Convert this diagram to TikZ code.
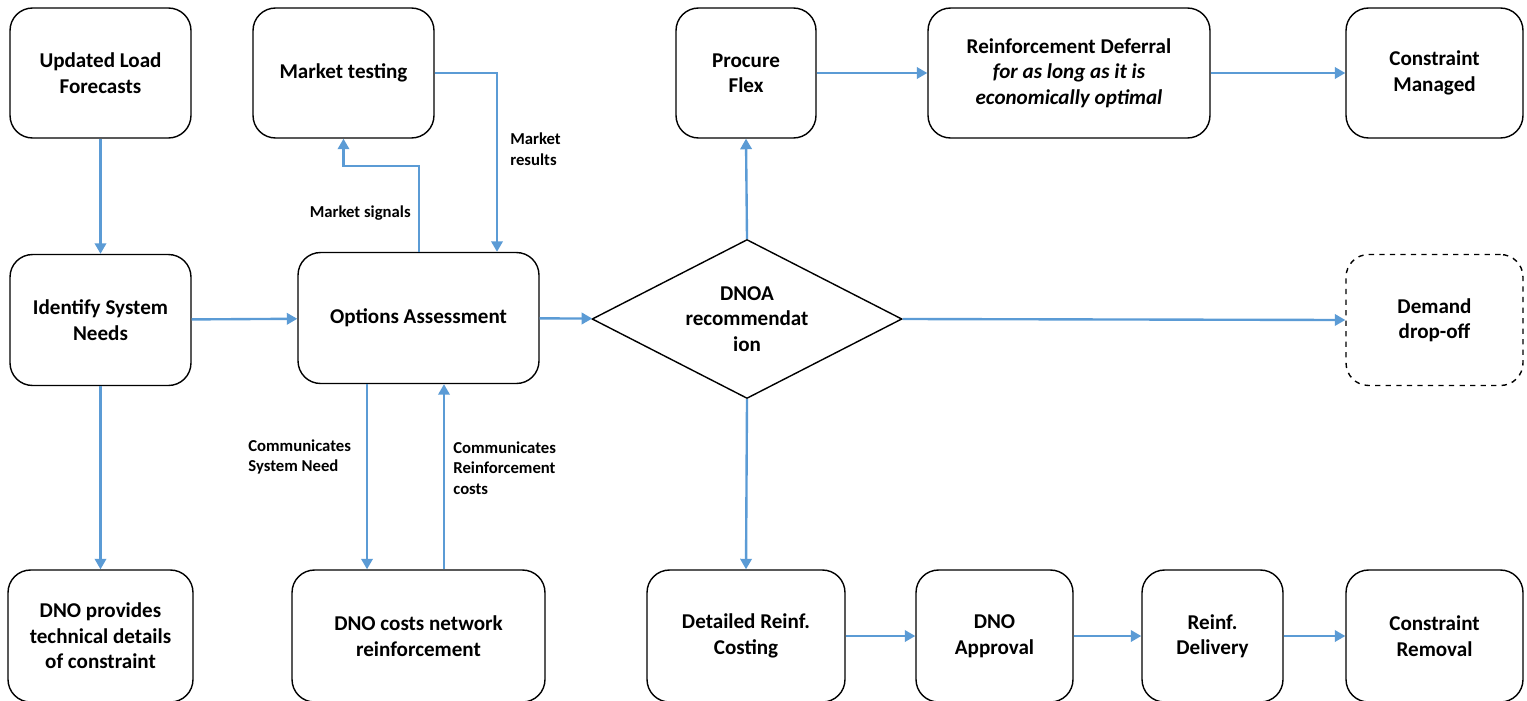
\documentclass[tikz,border=0pt]{standalone}
\usepackage{fontspec}
\setmainfont{Carlito}
\usepackage{tikz}
\usetikzlibrary{shapes.geometric,arrows.meta}
\definecolor{flowblue}{HTML}{5B9BD5}
\tikzstyle{box} = [draw, rounded corners=0.45cm, line width=0.8pt, align=center,
    font=\fontsize{12}{14.5}\selectfont\bfseries, minimum height=2.6cm, inner sep=2pt]
\tikzstyle{decide} = [draw, diamond, aspect=2, line width=0.8pt, align=center, inner sep=0pt,
    font=\fontsize{12}{14.5}\selectfont\bfseries, minimum width=6.2cm, minimum height=3.18cm]
\tikzstyle{flow} = [draw=flowblue, line width=1.35pt, -{Triangle[length=6pt,width=6.5pt]}]
\tikzstyle{note} = [align=left, font=\fontsize{9.5}{11.8}\selectfont\bfseries, inner sep=0pt]

\begin{document}
\begin{tikzpicture}[x=0.02cm, y=-0.02cm]
\useasboundingbox (0,0) rectangle (1527,700);

\node[box, minimum width=3.62cm] (upd) at (100.5,73) {Updated Load\\Forecasts};
\node[box, minimum width=3.62cm] (mt) at (343.5,73) {Market testing};
\node[box, minimum width=2.8cm] (flex) at (746,73) {Procure\\Flex};
\node[box, minimum width=5.64cm] (defer) at (1069,73)
    {Reinforcement Deferral\\\textit{for as long as it is}\\\textit{economically optimal}};
\node[box, minimum width=3.54cm] (cman) at (1434.5,73) {Constraint\\Managed};

\node[box, minimum width=3.62cm, minimum height=2.62cm] (isn) at (100.5,320) {Identify System\\Needs};
\node[box, minimum width=4.82cm, minimum height=2.62cm] (opt) at (418.5,318) {Options Assessment};
\node[decide] (dnoa) at (747,319) {DNOA\\recommendat\\ion};
\node[box, dashed, minimum width=3.54cm, minimum height=2.62cm] (drop) at (1434.5,320) {Demand\\drop-off};

\node[box, minimum width=3.7cm, minimum height=2.64cm] (dnop) at (100.5,636)
    {DNO provides\\technical details\\of constraint};
\node[box, minimum width=5.06cm, minimum height=2.64cm] (dnoc) at (418.5,636)
    {DNO costs network\\reinforcement};
\node[box, minimum width=3.96cm, minimum height=2.64cm] (det) at (746,636) {Detailed Reinf.\\Costing};
\node[box, minimum width=3.14cm, minimum height=2.64cm] (appr) at (994.5,636) {DNO\\Approval};
\node[box, minimum width=2.82cm, minimum height=2.64cm] (deliv) at (1212.5,636) {Reinf.\\Delivery};
\node[box, minimum width=3.54cm, minimum height=2.64cm] (crem) at (1434.5,636) {Constraint\\Removal};

\node[note, anchor=east] (sig) at (411,213) {Market signals};
\node[note, anchor=west] (res) at (510,149) {Market\\results};
\node[note, anchor=west] (need) at (248,457) {Communicates\\System Need};
\node[note, anchor=west] (cost) at (453,468) {Communicates\\Reinforcement\\costs};

\coordinate (sigbend) at (419,166);
\coordinate (rescol) at (497,0);
\coordinate (needcol) at (367,0);
\coordinate (costcol) at (444,0);

\draw[flow] (upd) -- (isn);
\draw[flow] (isn) -- (opt);
\draw[flow] (isn) -- (dnop);
\draw[flow] (opt.north -| sigbend) -- (sigbend) -| (mt.south);
\draw[flow] (mt.east) -| (opt.north -| rescol);
\draw[flow] (opt.south -| needcol) -- (dnoc.north -| needcol);
\draw[flow] (dnoc.north -| costcol) -- (opt.south -| costcol);
\draw[flow] (opt) -- (dnoa);
\draw[flow] (dnoa.north) -- (flex.south);
\draw[flow] (dnoa.east) -- (drop.west);
\draw[flow] (dnoa.south) -- (det.north);
\draw[flow] (flex) -- (defer);
\draw[flow] (defer) -- (cman);
\draw[flow] (det) -- (appr);
\draw[flow] (appr) -- (deliv);
\draw[flow] (deliv) -- (crem);
\end{tikzpicture}
\end{document}
